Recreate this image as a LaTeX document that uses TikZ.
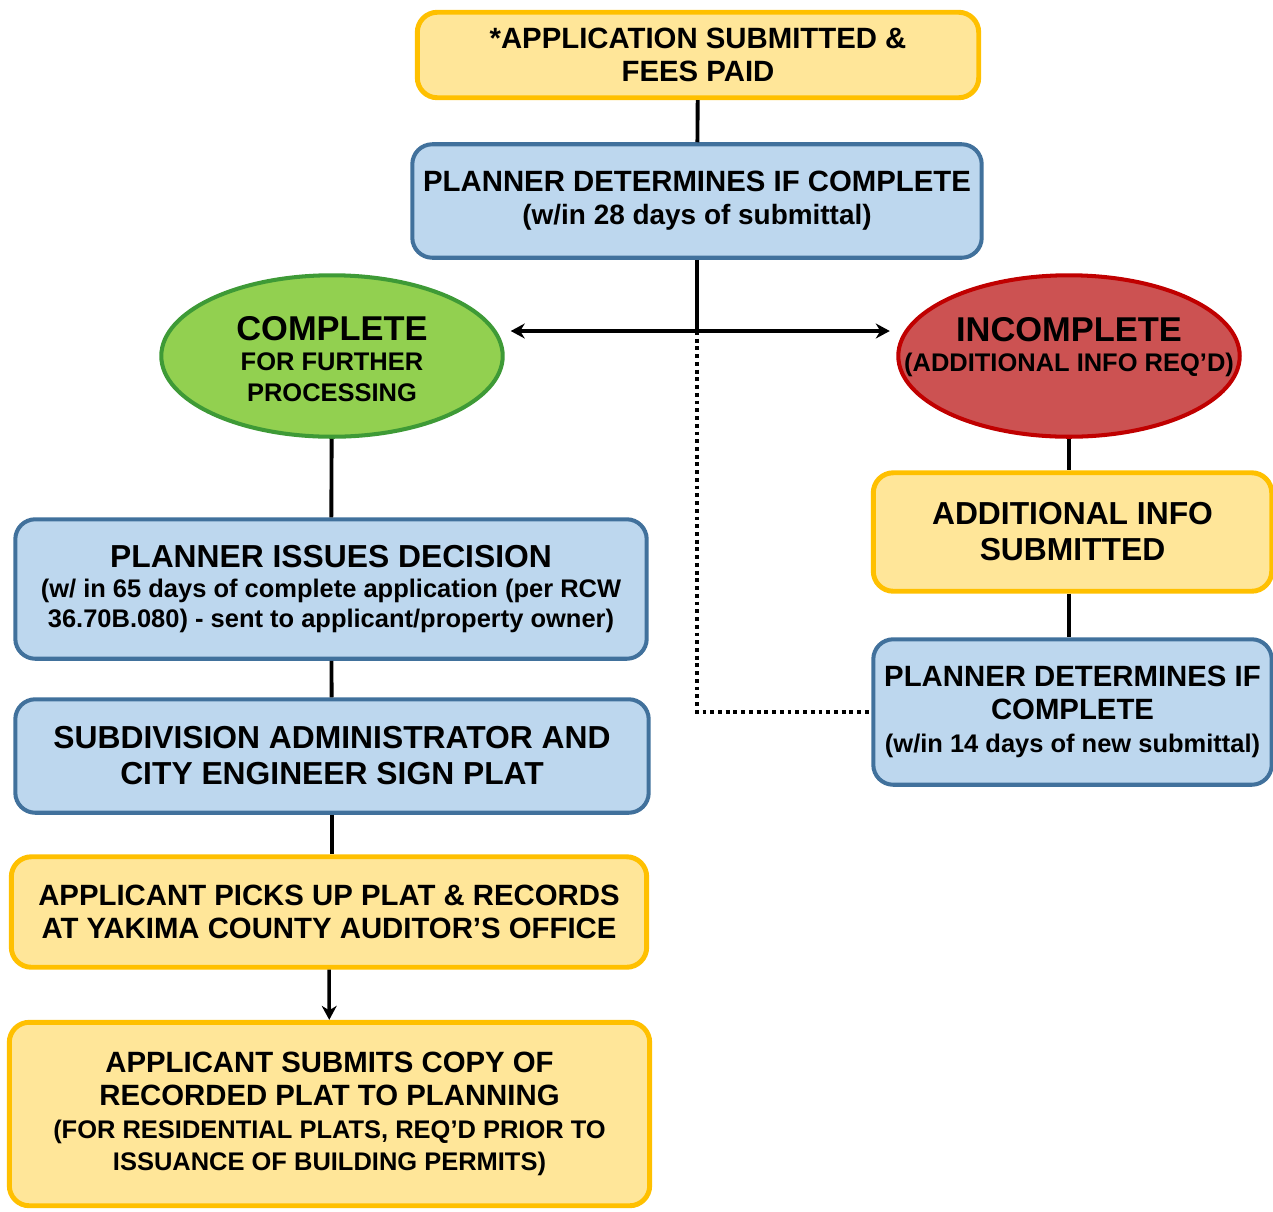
\documentclass[tikz,border=0pt]{standalone}
\usepackage{fontspec}
\setmainfont{Liberation Sans}
\usetikzlibrary{shapes.geometric,arrows.meta}

\definecolor{yelfill}{HTML}{FFE699}
\definecolor{yelline}{HTML}{FFC000}
\definecolor{bluefill}{HTML}{BDD7EE}
\definecolor{blueline}{HTML}{41719C}
\definecolor{grnfill}{HTML}{92D050}
\definecolor{grnline}{HTML}{3E9A36}
\definecolor{redfill}{HTML}{CC5252}
\definecolor{redline}{HTML}{C00000}

\newcommand{\hugetxt}{\fontsize{19.6}{22}\selectfont}
\newcommand{\bigtxt}{\fontsize{18.1}{20.5}\selectfont}
\newcommand{\normtxt}{\fontsize{16.7}{18.7}\selectfont}
\newcommand{\smalltxt}{\fontsize{14.5}{17.2}\selectfont}

\begin{document}
\begin{tikzpicture}[x=0.02cm, y=-0.02cm,
    yelbox/.style={draw=yelline, fill=yelfill, line width=2.8pt, rounded corners=0.4cm,
      align=center, inner sep=0pt, font=\bfseries\normtxt},
    bluebox/.style={draw=blueline, fill=bluefill, line width=2.3pt, rounded corners=0.4cm,
      align=center, inner sep=0pt, font=\bfseries\normtxt},
    link/.style={line width=2.2pt},
    >={Stealth[length=0.28cm, width=0.3cm]}]
        \useasboundingbox (0,0) rectangle (1273,1211);

        % Start
        \node[yelbox, minimum width=11.23cm, minimum height=1.71cm] (apply) at (698,55)
            {*APPLICATION SUBMITTED \&\\FEES PAID};
        \node[bluebox, minimum width=11.39cm, minimum height=2.27cm] (check) at (697,201)
            {PLANNER DETERMINES IF COMPLETE\\{\fontsize{15.9}{18}\selectfont (w/in 28 days of submittal)}};

        % Outcomes
        \node[ellipse, draw=grnline, fill=grnfill, line width=2.3pt, minimum width=6.83cm,
            minimum height=3.23cm, inner sep=0pt] (comp) at (332,356) {};
        \node[align=center, font=\bfseries\smalltxt] (comptxt) at (332,359)
            {{\hugetxt COMPLETE}\\FOR FURTHER\\PROCESSING};
        \node[ellipse, draw=redline, fill=redfill, line width=2.3pt, minimum width=6.83cm,
            minimum height=3.23cm, inner sep=0pt] (incomp) at (1069,356) {};
        \node[align=center, font=\bfseries\smalltxt] (incomptxt) at (1069,347)
            {{\hugetxt INCOMPLETE}\\(ADDITIONAL INFO REQ'D)};

        % Left branch
        \node[bluebox, minimum width=12.63cm, minimum height=2.79cm, font=\bfseries\smalltxt] (decide) at (331,589)
            {{\bigtxt PLANNER ISSUES DECISION}\\(w/ in 65 days of complete application (per RCW\\36.70B.080) - sent to applicant/property owner)};
        \node[bluebox, minimum width=12.67cm, minimum height=2.27cm, font=\bfseries\bigtxt] (sign) at (332,756)
            {SUBDIVISION ADMINISTRATOR AND\\CITY ENGINEER SIGN PLAT};
        \node[yelbox, minimum width=12.71cm, minimum height=2.21cm] (pickup) at (329,912)
            {APPLICANT PICKS UP PLAT \& RECORDS\\AT YAKIMA COUNTY AUDITOR'S OFFICE};
        \node[yelbox, minimum width=12.81cm, minimum height=3.67cm] (submit) at (329.5,1114)
            {APPLICANT SUBMITS COPY OF\\RECORDED PLAT TO PLANNING\\{\smalltxt (FOR RESIDENTIAL PLATS, REQ'D PRIOR TO}\\{\smalltxt ISSUANCE OF BUILDING PERMITS)}};

        % Right branch
        \node[yelbox, minimum width=7.97cm, minimum height=2.37cm, font=\bfseries\bigtxt] (addinfo) at (1072.5,532)
            {ADDITIONAL INFO\\SUBMITTED};
        \node[bluebox, minimum width=7.97cm, minimum height=2.91cm] (recheck) at (1072.5,712)
            {PLANNER DETERMINES IF\\COMPLETE\\{\smalltxt (w/in 14 days of new submittal)}};

        % Connectors
        \coordinate (hub) at (697,331);
        \draw[link] (apply) -- (check);
        \draw[link] (check) -- (hub);
        \draw[<->, line width=2pt, shorten <=0.12cm, shorten >=0.13cm]
            (comp.east |- hub) -- (incomp.west |- hub);
        \draw[link, dash pattern=on 2.2pt off 2.2pt] (hub) |- (recheck.west);
        \draw[link] (comp) -- (decide);
        \draw[link] (decide) -- (sign);
        \draw[link] (sign.south) -- (pickup.north -| sign.south);
        \draw[->, line width=2pt] (pickup) -- (submit);
        \draw[link] (incomp) -- (addinfo.north -| incomp.south);
        \draw[link] (addinfo.south -| incomp.south) -- (recheck.north -| incomp.south);
\end{tikzpicture}
\end{document}
